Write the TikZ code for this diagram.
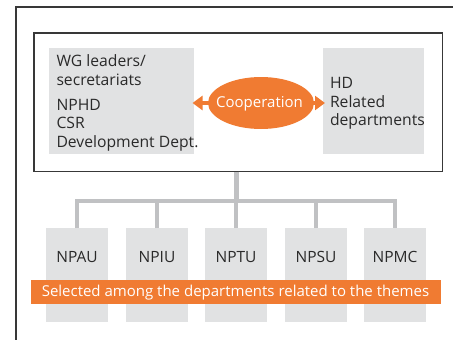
\documentclass[tikz,border=0pt]{standalone}
\usepackage{fontspec}
\setmainfont{Open Sans}
\usetikzlibrary{arrows.meta,shapes.geometric}
\definecolor{orng}{HTML}{F07B32}
\definecolor{boxgrey}{HTML}{E1E2E3}
\definecolor{linegrey}{HTML}{C0C1C3}
\definecolor{frame}{HTML}{383838}
\definecolor{txt}{HTML}{2A2A2A}
\begin{document}
\begin{tikzpicture}[x=1pt,y=-1pt,
  greybox/.style={fill=boxgrey,draw=none,inner sep=0pt,outer sep=0pt},
  lbl/.style={inner sep=0pt,outer sep=0pt,anchor=base west,text=txt,font=\fontsize{15.7}{18}\selectfont},
  unitbox/.style={greybox,minimum width=62pt,minimum height=94pt},
  unitlbl/.style={inner sep=0pt,anchor=base,text=txt,font=\fontsize{15.5}{18}\selectfont},
  conn/.style={draw=linegrey,line width=4.5pt},
  framel/.style={draw=frame,line width=1.8pt}]
\useasboundingbox (0,0) rectangle (453,340);
% outer frame
\draw[framel] (16,341) -- (16,7) -- (454,7);
% inner box
\node[framel,inner sep=0pt,minimum width=408.5pt,minimum height=138.5pt,anchor=north west] (top) at (33,32) {};
% grey boxes
\node[greybox,minimum width=145pt,minimum height=106pt,anchor=north west] (lbox) at (49,48) {};
\node[greybox,minimum width=101pt,minimum height=106pt,anchor=north west] (rbox) at (323,48) {};
% left texts
\node[lbl] (l1) at (56.5,66.5) {WG leaders/};
\node[lbl] (l2) at (56.5,85.5) {secretariats};
\node[lbl] (l3) at (56.5,110.5) {NPHD};
\node[lbl] (l4) at (56.5,128.5) {CSR};
\node[lbl] (l5) at (56.5,147) {Development Dept.};
% right texts
\node[lbl] (r1) at (330,88) {HD};
\node[lbl] (r2) at (330,107) {Related};
\node[lbl] (r3) at (330,125.5) {departments};
% cooperation
\coordinate (la) at (192.5,103);
\coordinate (ra) at (325,103);
\draw[orng,line width=4pt,{Triangle[length=10pt,width=14pt]}-{Triangle[length=10pt,width=14pt]}] (la) -- (ra);
\node[ellipse,fill=orng,minimum width=106pt,minimum height=52pt,inner sep=0pt] (coop) at (261,103) {};
\node[inner sep=0pt,anchor=base,text=white,font=\fontsize{15}{18}\selectfont] (cooptxt) at (259.5,107.5) {Cooperation};
% unit boxes
\node[unitbox,anchor=north] (u1) at (77,228) {};
\node[unitbox,anchor=north] (u2) at (157,228) {};
\node[unitbox,anchor=north] (u3) at (236,228) {};
\node[unitbox,anchor=north] (u4) at (316,228) {};
\node[unitbox,anchor=north] (u5) at (395,228) {};
\node[unitlbl] at (77,262.5) {NPAU};
\node[unitlbl] at (157,262.5) {NPIU};
\node[unitlbl] at (236,262.5) {NPTU};
\node[unitlbl] at (316,262.5) {NPSU};
\node[unitlbl] at (395,262.5) {NPMC};
% connectors
\coordinate (hub) at (236.5,201);
\draw[conn] (236.5,171.5) -- (hub);
\draw[conn] (u1.north) -- (77,201) -- (395,201) -- (u5.north);
\draw[conn] (u2.north) -- (157,201);
\draw[conn] (u3.north) -- (236,201);
\draw[conn] (u4.north) -- (316,201);
% banner
\node[fill=orng,minimum width=410pt,minimum height=24pt,inner sep=0pt,anchor=north west] (banner) at (31,280) {};
\node[inner sep=0pt,anchor=base,text=white,font=\fontsize{15}{18}\selectfont] (bantxt) at (235.5,296.7) {Selected among the departments related to the themes};
\end{tikzpicture}
\end{document}
